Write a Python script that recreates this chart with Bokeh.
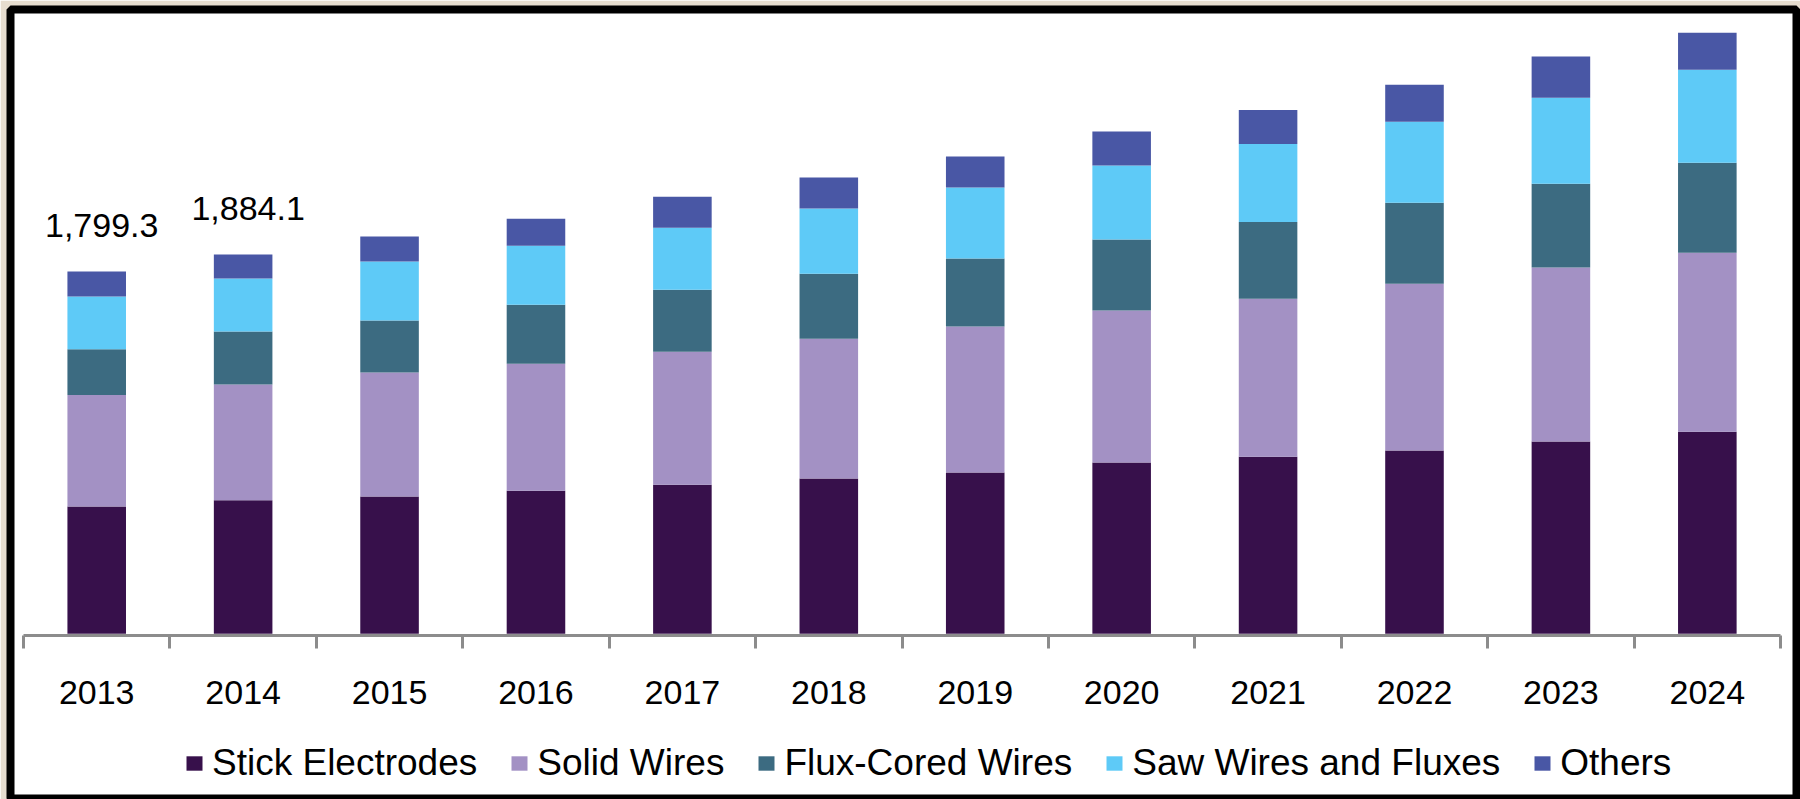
from bokeh.plotting import figure
from bokeh.models import (Range1d, LinearAxis, FixedTicker, Legend, LegendItem,
                          ColumnDataSource)
from bokeh.core.properties import value
from bokeh.embed import file_html
from bokeh.resources import INLINE

# ---- data ----
years = ["2013", "2014", "2015", "2016", "2017", "2018",
         "2019", "2020", "2021", "2022", "2023", "2024"]
series_names = ["Stick Electrodes", "Solid Wires", "Flux-Cored Wires",
                "Saw Wires and Fluxes", "Others"]
stick = [632, 664, 682, 711, 741, 771, 801, 851, 880, 910, 955, 1004]
solid = [554, 574, 616, 631, 660, 695, 725, 755, 784, 829, 864, 889]
flux = [228, 264, 258, 293, 308, 323, 338, 353, 382, 402, 417, 447]
saw = [262, 263, 293, 293, 308, 323, 353, 367, 387, 402, 427, 462]
others = [123.3, 119.1, 124, 134, 154, 154, 154, 169, 169, 184, 204, 184]
label_years = ["2013", "2014"]
label_texts = ["1,799.3", "1,884.1"]

colors = ["#37104b", "#a391c4", "#3c6b81", "#5ecaf7", "#4957a5"]
FONT = "Liberation Sans"

xs = [i + 0.5 for i in range(len(years))]
src = ColumnDataSource(dict(x=xs, stick=stick, solid=solid, flux=flux,
                            saw=saw, others=others))
keys = ["stick", "solid", "flux", "saw", "others"]

totals = [a + b + c + d + e for a, b, c, d, e in zip(stick, solid, flux, saw, others)]
lab_x = [xs[years.index(y)] for y in label_years]
lab_y = [totals[years.index(y)] for y in label_years]

p = figure(width=1800, height=799, output_backend="svg", toolbar_location=None,
           x_range=Range1d(-0.0888, 12.109), y_range=Range1d(-823, 3101),
           x_axis_location=None, y_axis_location=None,
           min_border_left=10, min_border_right=4, min_border_top=9,
           min_border_bottom=0,
           background_fill_color="white", border_fill_color="#e6ddcf",
           outline_line_color="black", outline_line_width=8)
p.grid.visible = False

renderers = p.vbar_stack(keys, x="x", width=0.40, source=src,
                         fill_color=colors, line_color=None)

p.text(x=lab_x, y=lab_y, text=label_texts, text_font=value(FONT),
       text_font_size="34px", text_align="center", text_baseline="alphabetic",
       x_offset=5, y_offset=-46, text_color="black")

ax = LinearAxis(ticker=FixedTicker(ticks=xs, minor_ticks=list(range(len(years) + 1))),
                major_label_overrides={x: y for x, y in zip(xs, years)},
                fixed_location=-7, bounds=(0, len(years)),
                axis_line_color="#8c8c8c", axis_line_width=3,
                major_tick_line_color=None, major_tick_out=0, major_tick_in=0,
                minor_tick_line_color="#8c8c8c", minor_tick_line_width=3,
                minor_tick_out=13, minor_tick_in=0,
                major_label_text_font=FONT, major_label_text_font_size="34px",
                major_label_standoff=33, major_label_text_color="black")
p.add_layout(ax, "below")

items = [LegendItem(label=n, renderers=[r]) for n, r in zip(series_names, renderers)]
legend = Legend(items=items, orientation="horizontal", location=(174, 15),
                border_line_color=None, background_fill_alpha=0,
                padding=0, margin=0, spacing=32, label_standoff=8,
                glyph_width=20, glyph_height=18,
                label_text_font=FONT, label_text_font_size="37px",
                label_text_color="black")
p.add_layout(legend, "center")

open("out.html", "w").write(file_html(p, INLINE))
